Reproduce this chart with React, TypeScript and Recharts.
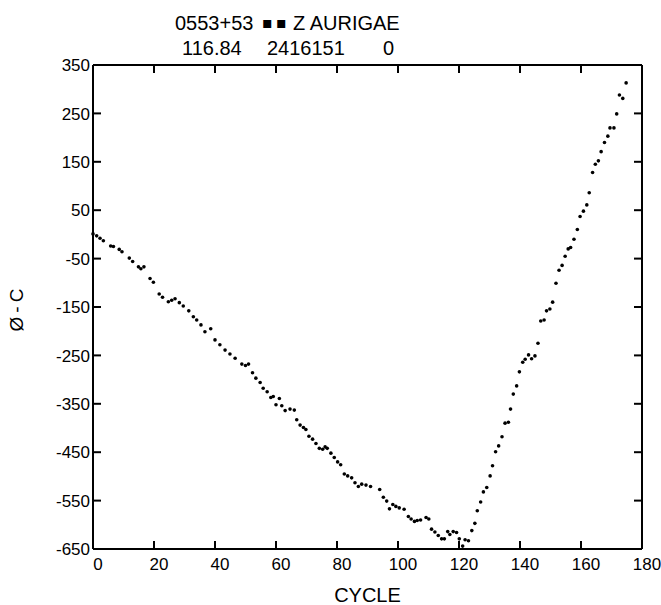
import React from 'react';
import { ScatterChart, Scatter, XAxis, YAxis, Label, ReferenceLine } from 'recharts';

// cycle number (E) of each timing
const cycles = [
  0, 1.2, 2.3, 3.4, 5.8, 6.7, 8.6, 9.5, 11.9, 13.0, 14.9, 15.7, 16.7, 18.7, 19.8,
  21.7, 22.8, 24.7, 25.8, 26.9, 28.3, 29.6, 31.4, 32.9, 34.0, 35.4, 36.7, 38.6,
  40.0, 41.6, 43.3, 44.9, 46.6, 48.8, 50.0, 51.0, 52.3, 53.4, 54.8, 55.8, 57.1,
  58.3, 59.1, 60.0, 61.1, 61.9, 63.0, 64.6, 66.0, 66.8, 67.9, 69.0, 69.8, 70.8,
  72.0, 73.1, 74.2, 75.3, 76.1, 76.8, 78.0, 79.1, 80.2, 81.2, 82.4, 83.5, 84.8,
  85.9, 87.0, 88.1, 89.5, 91.0, 94.0, 95.2, 96.3, 97.2, 98.3, 99.3, 100.4, 102.0,
  103.4, 104.3, 105.4, 106.3, 107.4, 109.2, 110.1, 111.0, 112.1, 113.2, 114.3,
  115.2, 116.3, 117.0, 118.1, 119.2, 120.1, 121.2, 122.0, 123.1, 124.2, 125.2,
  126.0, 127.1, 128.0, 129.1, 130.2, 131.0, 132.0, 133.0, 134.1, 135.1, 136.2,
  136.9, 137.8, 138.9, 139.8, 140.9, 141.7, 142.8, 143.8, 144.9, 145.9, 146.8,
  147.9, 148.7, 149.8, 150.7, 151.8, 152.8, 153.8, 154.8, 155.8, 156.6, 157.7,
  158.8, 159.7, 160.8, 161.9, 162.7, 163.8, 164.7, 165.7, 166.6, 167.7, 168.8,
  169.5, 170.8, 171.7, 172.6, 173.7, 174.8,
];

// O-C residuals
const ocValues = [
  1, -3, -8, -13, -24, -25, -31, -36, -49, -56, -67, -71, -67, -91, -99,
  -123, -130, -139, -136, -133, -141, -148, -158, -170, -177, -187, -201, -195,
  -218, -228, -239, -247, -256, -268, -271, -268, -286, -297, -306, -318, -325,
  -337, -335, -352, -339, -354, -364, -361, -363, -383, -394, -399, -403, -417,
  -423, -432, -442, -444, -439, -442, -452, -461, -470, -476, -495, -499, -503,
  -513, -521, -516, -518, -521, -527, -543, -551, -567, -558, -562, -565, -568,
  -583, -588, -593, -591, -590, -585, -588, -609, -615, -622, -629,
  -629, -614, -620, -614, -616, -629, -644, -631, -633, -612, -597,
  -571, -553, -532, -523, -499, -478, -449, -437, -418, -390, -388,
  -361, -330, -313, -284, -264, -258, -249, -257, -251, -225, -179,
  -177, -158, -154, -140, -101, -74, -64, -45, -30, -27, -10,
  10, 37, 48, 61, 86, 128, 145, 152, 171, 190, 203,
  220, 220, 249, 288, 281, 313,
];

const xTicks = [0, 20, 40, 60, 80, 100, 120, 140, 160, 180];
const yTicks = [-650, -550, -450, -350, -250, -150, -50, 50, 150, 250, 350];

const points = cycles.map((c, i) => ({ cycle: c, oc: ocValues[i] }));

const W = 661;
const H = 605;
const margin = { top: 65, right: 19, bottom: 0, left: 0 };
const plotTop = margin.top;
const plotRight = W - margin.right;
const TICK = 8;
const X_MARGIN = 10;
const Y_MARGIN = 4;

const font = 'Liberation Sans, Arial, sans-serif';
const axisLine = { stroke: '#000', strokeWidth: 2 };

// bottom ticks point inward, and the same tick is mirrored on the top frame
const XTick = (props: any) => {
  const { x, y, payload } = props;
  const axisY = y - X_MARGIN;
  return (
    <g>
      <line x1={x} x2={x} y1={axisY} y2={axisY - TICK} stroke="#000" strokeWidth={2} />
      <line x1={x} x2={x} y1={plotTop} y2={plotTop + TICK} stroke="#000" strokeWidth={2} />
      <text x={x + 5} y={axisY + 9} dy="0.71em" textAnchor="middle" fontSize={17} fontFamily={font} fill="#000">
        {payload.value}
      </text>
    </g>
  );
};

// left ticks point inward, mirrored on the right frame
const YTick = (props: any) => {
  const { x, y, payload } = props;
  const axisX = x + Y_MARGIN;
  return (
    <g>
      <line x1={axisX} x2={axisX + TICK} y1={y} y2={y} stroke="#000" strokeWidth={2} />
      <line x1={plotRight - TICK} x2={plotRight} y1={y} y2={y} stroke="#000" strokeWidth={2} />
      <text x={axisX - 3} y={y} dy="0.36em" textAnchor="end" fontSize={17} fontFamily={font} fill="#000">
        {payload.value}
      </text>
    </g>
  );
};

const Dot = (props: any) => <circle cx={props.cx} cy={props.cy} r={1.8} fill="#000" />;

const txt = (left: number, top: number, s: string, extra: any = {}) => (
  <span
    style={{
      position: 'absolute',
      left,
      top,
      fontFamily: font,
      fontSize: 20,
      lineHeight: '20px',
      color: '#000',
      whiteSpace: 'pre',
      ...extra,
    }}
  >
    {s}
  </span>
);

export default function App() {
  return (
    <div style={{ position: 'absolute', left: 0, top: 0, width: W, height: H, background: '#fff' }}>
      {txt(175, 13, '0553+53')}
      {txt(262, 13, '▪ ▪', { fontFamily: 'DejaVu Sans', fontSize: 16, letterSpacing: -1 })}
      {txt(293, 13, 'Z AURIGAE')}
      {txt(182, 38, '116.84')}
      {txt(267, 38, '2416151')}
      {txt(383, 38, '0')}
      <div
        style={{
          position: 'absolute',
          left: 16,
          top: 308,
          transform: 'translate(-50%, -50%) rotate(-90deg)',
          fontFamily: font,
          fontSize: 19,
          lineHeight: '19px',
          letterSpacing: 4,
          whiteSpace: 'pre',
          color: '#000',
        }}
      >
        Ø-C
      </div>
      <ScatterChart width={W} height={H} margin={margin}>
        <XAxis
          xAxisId="b"
          dataKey="cycle"
          type="number"
          domain={[0, 180]}
          ticks={xTicks}
          interval={0}
          height={56}
          tickSize={0}
          tickMargin={X_MARGIN}
          axisLine={axisLine}
          tickLine={false}
          tick={<XTick />}
        >
          <Label value="CYCLE" position="insideBottom" offset={3} fontSize={20} fontFamily={font} fill="#000" />
        </XAxis>
        <YAxis
          yAxisId="l"
          dataKey="oc"
          type="number"
          domain={[-650, 350]}
          ticks={yTicks}
          interval={0}
          width={93}
          tickSize={0}
          tickMargin={Y_MARGIN}
          axisLine={axisLine}
          tickLine={false}
          tick={<YTick />}
        />
        <ReferenceLine xAxisId="b" yAxisId="l" y={350} stroke="#000" strokeWidth={2} />
        <ReferenceLine xAxisId="b" yAxisId="l" x={180} stroke="#000" strokeWidth={2} />
        <Scatter
          xAxisId="b"
          yAxisId="l"
          data={points}
          dataKey="oc"
          fill="#000"
          shape={Dot}
          isAnimationActive={false}
        />
      </ScatterChart>
    </div>
  );
}
